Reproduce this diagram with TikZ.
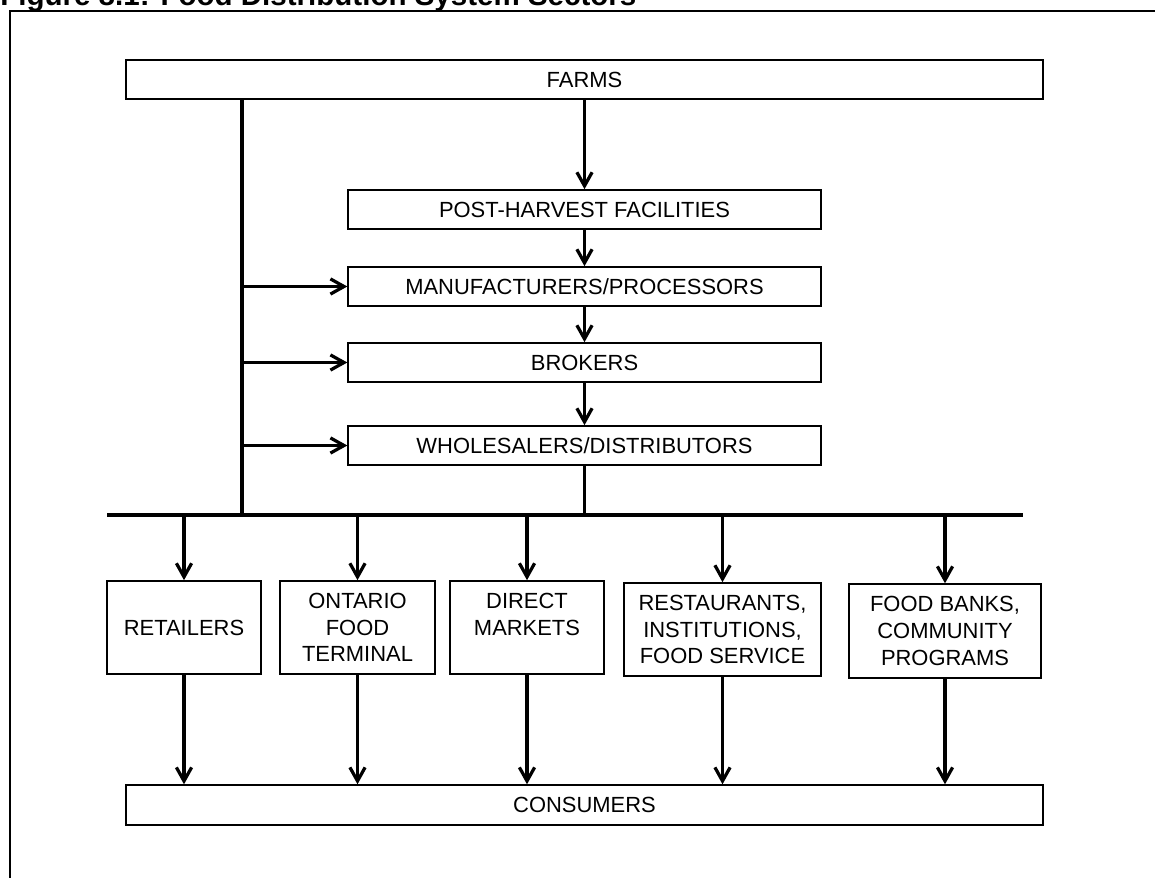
\documentclass[tikz,border=0pt]{standalone}
\usepackage{fontspec}
\setmainfont{Liberation Sans}
\usetikzlibrary{positioning,arrows.meta}

\begin{document}
\begin{tikzpicture}[x=0.025cm,y=-0.025cm,
  font=\fontsize{15.6}{19}\selectfont,
  box/.style={draw,line width=1pt,inner sep=2pt,align=center},
  band/.style={box,minimum width=22.92cm,minimum height=0.98cm},
  stage/.style={box,minimum width=11.82cm,minimum height=0.98cm},
  sector/.style={box,minimum height=2.33cm},
  arr/.style={-{Straight Barb[length=3.4mm,width=3.8mm]},line width=2.3pt},
  feed/.style={line width=2.3pt}]
  \useasboundingbox (0,0) rectangle (1155,878);
  \node[font=\bfseries\fontsize{21}{25}\selectfont,anchor=base west,inner sep=0pt] (title) at (0,6) {Figure 8.1: Food Distribution System Sectors};
  \draw[line width=1.5pt] (1165,11) -- (10,11) -- (10,890);
  % supply chain
  \node[band] (farms) at (584.5,79.5) {FARMS};
  \node[stage] (post) at (584.5,209.5) {POST-HARVEST FACILITIES};
  \draw[arr] (farms) -- (post);
  \node[stage] (manuf) at (584.5,286.5) {MANUFACTURERS/PROCESSORS};
  \draw[arr] (post) -- (manuf);
  \node[stage] (brokers) at (584.5,362.5) {BROKERS};
  \draw[arr] (manuf) -- (brokers);
  \node[stage] (whole) at (584.5,445.5) {WHOLESALERS/DISTRIBUTORS};
  \draw[arr] (brokers) -- (whole);
  % trunk and bus
  \coordinate (trunk) at (242,515);
  \coordinate (busw) at (107,515);
  \coordinate (buse) at (1023,515);
  \draw[feed] (farms.south -| trunk) -- (trunk);
  \draw[feed] (busw) -- (buse);
  \draw[feed] (whole) -- (whole.south |- busw);
  \foreach \n in {manuf,brokers,whole} \draw[arr] (\n.west -| trunk) -- (\n.west);
  % sectors
  \node[sector,minimum width=3.85cm] (retail) at (184,627.5) {RETAILERS};
  \node[sector,minimum width=3.875cm] (terminal) at (357.5,627.5) {ONTARIO\\FOOD\\TERMINAL};
  \node[sector,minimum width=3.85cm] (direct) at (527,627.5) {DIRECT\\MARKETS\\\mbox{}};
  \node[sector,minimum width=4.925cm] (service) at (722.5,629.5) {RESTAURANTS,\\INSTITUTIONS,\\FOOD SERVICE};
  \node[sector,minimum width=4.8cm,minimum height=2.35cm] (banks) at (945,631) {FOOD BANKS,\\COMMUNITY\\PROGRAMS};
  \node[band,minimum height=1cm] (consumers) at (584.5,805) {CONSUMERS};
  \foreach \n in {retail,terminal,direct,service,banks} {
    \draw[arr] (\n.north |- busw) -- (\n.north);
    \draw[arr] (\n.south) -- (\n.south |- consumers.north);
  }
\end{tikzpicture}
\end{document}
